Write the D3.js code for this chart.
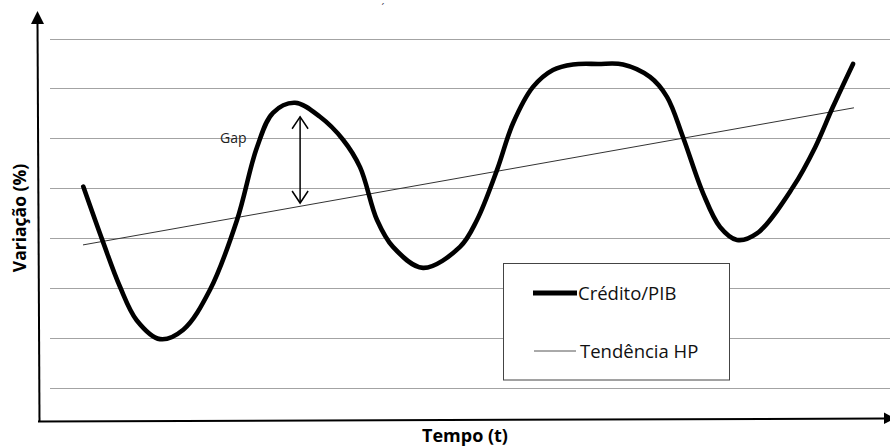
<!DOCTYPE html>
<html>
<head>
<meta charset="utf-8">
<script src="https://cdn.jsdelivr.net/npm/d3@7"></script>
<style>
  body { margin: 0; background: #fff; }
  svg { display: block; font-family: "Open Sans", sans-serif; }
</style>
</head>
<body>
<svg width="890" height="446"></svg>
<script>
// time (t) and Crédito/PIB values
var tempo = [5.09, 7.41, 9.41, 11.37, 14.12, 16.86, 20, 23.18, 25.53, 27.41, 30, 32.94, 35.65, 37.65,
             39.65, 41.53, 45.06, 49.41, 51.41, 53.76, 55.65, 58, 60.35, 62.71, 65.65, 68.59, 71.76,
             73.76, 75.65, 78, 80, 82, 84.35, 88.59, 91.2, 93.29, 95.65];
var credito = [5.03, 3.92, 3.02, 2.35, 1.97, 2.16, 2.96, 4.36, 5.82, 6.51, 6.71, 6.43, 5.97, 5.42,
               4.36, 3.82, 3.40, 3.82, 4.36, 5.36, 6.30, 7.03, 7.37, 7.48, 7.49, 7.48, 7.23,
               6.83, 6.02, 4.90, 4.22, 3.96, 4.09, 5.02, 5.82, 6.63, 7.49];
// HP trend (start and end)
var tendenciaT = [5.06, 95.76];
var tendencia = [3.86, 6.61];
// gap annotation: t, top, bottom
var gapT = 30.6, gapTop = 6.43, gapBottom = 4.70;
var gridValues = [1, 2, 3, 4, 5, 6, 7, 8];

var svg = d3.select("svg");

var x = d3.scaleLinear().domain([0, 100]).range([40, 890]);
var y = d3.scaleLinear().domain([1, 8]).range([387.5, 38.5]);

// gridlines
svg.append("g")
    .selectAll("line")
    .data(gridValues)
    .enter()
    .append("line")
    .attr("x1", 50)
    .attr("x2", 890)
    .attr("y1", function (d) { return Math.round(y(d)) + 0.5; })
    .attr("y2", function (d) { return Math.round(y(d)) + 0.5; })
    .attr("stroke", "#a3a3a3")
    .attr("stroke-width", 1);

// axes with arrows
svg.append("line")
    .attr("x1", 39.5).attr("y1", 421.5)
    .attr("x2", 37.5).attr("y2", 22)
    .attr("stroke", "#000").attr("stroke-width", 2);
svg.append("path")
    .attr("d", "M37.5,11 L31,24 L44,24 Z")
    .attr("fill", "#000");
svg.append("line")
    .attr("x1", 38).attr("y1", 421.5)
    .attr("x2", 884).attr("y2", 418.5)
    .attr("stroke", "#000").attr("stroke-width", 2);
svg.append("path")
    .attr("d", "M884,412.5 L895,418.3 L884,424 Z")
    .attr("fill", "#000");

// trend line
var trendData = tendenciaT.map(function (t, i) { return [t, tendencia[i]]; });
svg.append("path")
    .datum(trendData)
    .attr("d", d3.line()
        .x(function (d) { return x(d[0]); })
        .y(function (d) { return y(d[1]); }))
    .attr("fill", "none")
    .attr("stroke", "#333")
    .attr("stroke-width", 1);

// credit / GDP curve
var creditData = tempo.map(function (t, i) { return [t, credito[i]]; });
svg.append("path")
    .datum(creditData)
    .attr("d", d3.line()
        .curve(d3.curveCatmullRom.alpha(0.5))
        .x(function (d) { return x(d[0]); })
        .y(function (d) { return y(d[1]); }))
    .attr("fill", "none")
    .attr("stroke", "#000")
    .attr("stroke-width", 4.6)
    .attr("stroke-linecap", "round")
    .attr("stroke-linejoin", "round");

// gap arrow
var gx = x(gapT), gy1 = y(gapTop), gy2 = y(gapBottom);
var gap = svg.append("g")
    .attr("stroke", "#000")
    .attr("stroke-width", 1.5)
    .attr("fill", "none");
gap.append("line").attr("x1", gx).attr("x2", gx).attr("y1", gy1).attr("y2", gy2);
gap.append("path").attr("d", "M" + (gx - 8) + "," + (gy1 + 12) + " L" + gx + "," + gy1 + " L" + (gx + 8) + "," + (gy1 + 12));
gap.append("path").attr("d", "M" + (gx - 8) + "," + (gy2 - 12) + " L" + gx + "," + gy2 + " L" + (gx + 8) + "," + (gy2 - 12));

svg.append("text")
    .attr("x", gx - 80)
    .attr("y", y(5.9))
    .attr("font-size", 14)
    .attr("fill", "#222")
    .text("Gap");

// legend
var legend = svg.append("g");
legend.append("rect")
    .attr("x", 503.5).attr("y", 263.5)
    .attr("width", 226).attr("height", 116.5)
    .attr("fill", "#fff")
    .attr("stroke", "#444")
    .attr("stroke-width", 1);
legend.append("line")
    .attr("x1", 533).attr("x2", 577).attr("y1", 293).attr("y2", 293)
    .attr("stroke", "#000").attr("stroke-width", 5);
legend.append("text")
    .attr("x", 578).attr("y", 300)
    .attr("font-size", 18.5).attr("fill", "#111")
    .text("Crédito/PIB");
legend.append("line")
    .attr("x1", 534).attr("x2", 576).attr("y1", 351).attr("y2", 351)
    .attr("stroke", "#555").attr("stroke-width", 1);
legend.append("text")
    .attr("x", 580).attr("y", 357.5)
    .attr("font-size", 18.5).attr("fill", "#111")
    .text("Tendência HP");

// axis titles
svg.append("text")
    .attr("transform", "translate(26,218) rotate(-90)")
    .attr("text-anchor", "middle")
    .attr("font-size", 17.5)
    .attr("font-weight", "bold")
    .attr("fill", "#000")
    .text("Variação (%)");
svg.append("text")
    .attr("x", 465)
    .attr("y", 442)
    .attr("text-anchor", "middle")
    .attr("font-size", 18)
    .attr("font-weight", "bold")
    .attr("fill", "#000")
    .text("Tempo (t)");

// small leftover mark at the top
svg.append("text")
    .attr("x", 383)
    .attr("y", 12)
    .attr("text-anchor", "middle")
    .attr("font-size", 10)
    .attr("fill", "#334")
    .text("´");
</script>
</body>
</html>
